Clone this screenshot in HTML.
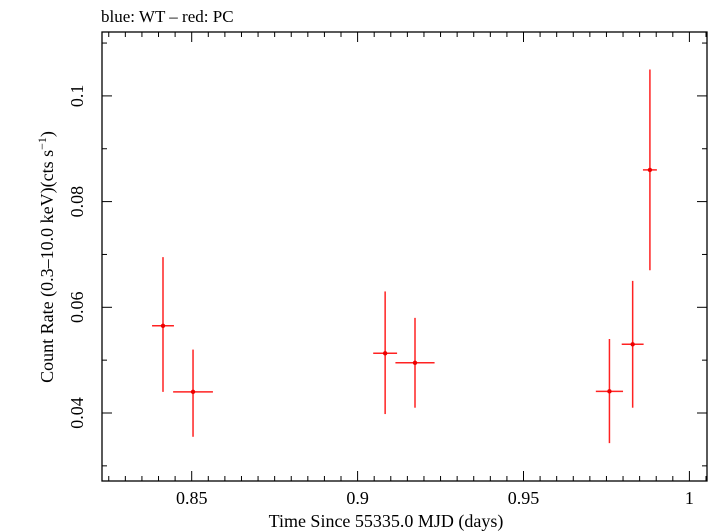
<!DOCTYPE html>
<html><head><meta charset="utf-8"><style>
body{margin:0;background:#fff;}
svg{display:block;font-family:"Liberation Serif",serif;}
</style></head><body>
<svg id="c" width="709" height="532">
<text x="101" y="22" font-size="17">blue: WT – red: PC</text>
<rect x="102" y="32" width="605" height="449" fill="none" stroke="#000" stroke-width="1.3"/>
<g id="axes"></g>
<g id="marks"></g>
<text x="386" y="527" font-size="18" text-anchor="middle">Time Since 55335.0 MJD (days)</text>
<text transform="translate(53,257) rotate(-90)" font-size="18" text-anchor="middle">Count Rate (0.3–10.0 keV)(cts s<tspan font-size="12" dy="-7">−1</tspan><tspan dy="7">)</tspan></text>
</svg>
<script>
const times=[0.84135,0.8504,0.9083,0.9173,0.9759,0.9829,0.9881];
const timeErr=[0.0033,0.006,0.0036,0.0059,0.0041,0.0033,0.0021];
const rates=[0.0565,0.044,0.0513,0.0495,0.0441,0.053,0.086];
const rateLo=[0.044,0.0355,0.0398,0.041,0.0343,0.041,0.067];
const rateHi=[0.0695,0.052,0.063,0.058,0.054,0.065,0.105];
const xTicks=[0.85,0.9,0.95,1];
const xTickLabels=["0.85","0.9","0.95","1"];
const yTicks=[0.04,0.06,0.08,0.1];
const yTickLabels=["0.04","0.06","0.08","0.1"];
const X=v=>191.7+(v-0.85)*3318;
const Y=v=>413-(v-0.04)*5285;
const NS="http://www.w3.org/2000/svg";
const ax=document.getElementById('axes'),mk=document.getElementById('marks');
function ln(p,x1,y1,x2,y2,c,w){const l=document.createElementNS(NS,'line');l.setAttribute('x1',x1);l.setAttribute('y1',y1);l.setAttribute('x2',x2);l.setAttribute('y2',y2);l.setAttribute('stroke',c);l.setAttribute('stroke-width',w);p.appendChild(l);return l;}
for(let i=0;i<45;i++){const v=0.82+i*0.005;const x=X(v);if(x<103||x>706)continue;const maj=Math.abs(v/0.05-Math.round(v/0.05))<1e-6;const L=maj?10:5;
const t1=ln(ax,x,481,x,481-L,'#000',1);
const t2=ln(ax,x,32,x,32+L,'#000',1);}
for(let i=0;i<10;i++){const v=0.03+i*0.01;const y=Y(v);if(y<33||y>480)continue;const maj=Math.abs(v/0.02-Math.round(v/0.02))<1e-6;const L=maj?10:5;
const t1=ln(ax,102,y,102+L,y,'#000',1);
const t2=ln(ax,707,y,707-L,y,'#000',1);}
xTicks.forEach((v,i)=>{const t=document.createElementNS(NS,'text');t.setAttribute('x',X(v));t.setAttribute('y',504);t.setAttribute('font-size','18');t.setAttribute('text-anchor','middle');t.textContent=xTickLabels[i];

ax.appendChild(t);});
yTicks.forEach((v,i)=>{const t=document.createElementNS(NS,'text');t.setAttribute('transform',`translate(83,${Y(v)}) rotate(-90)`);t.setAttribute('font-size','18');t.setAttribute('text-anchor','middle');t.textContent=yTickLabels[i];

ax.appendChild(t);});
times.forEach((t,i)=>{const g=document.createElementNS(NS,'g');


ln(g,X(t-timeErr[i]),Y(rates[i]),X(t+timeErr[i]),Y(rates[i]),'#f22',1.5);
ln(g,X(t),Y(rateLo[i]),X(t),Y(rateHi[i]),'#f22',1.5);
const c=document.createElementNS(NS,'circle');c.setAttribute('cx',X(t));c.setAttribute('cy',Y(rates[i]));c.setAttribute('r',2.2);c.setAttribute('fill','#e00');g.appendChild(c);
mk.appendChild(g);});
</script>
</body></html>
